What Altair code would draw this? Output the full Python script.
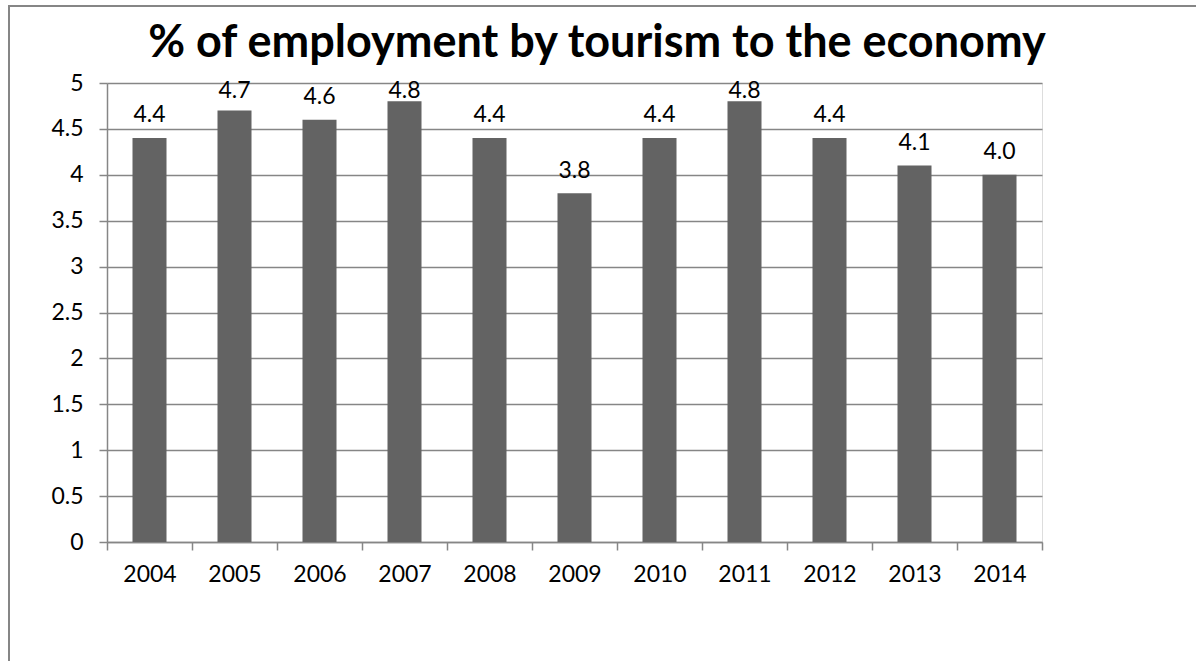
import altair as alt
import pandas as pd

years = ["2004", "2005", "2006", "2007", "2008", "2009", "2010", "2011", "2012", "2013", "2014"]
values = [4.4, 4.7, 4.6, 4.8, 4.4, 3.8, 4.4, 4.8, 4.4, 4.1, 4.0]
labels = ["4.4", "4.7", "4.6", "4.8", "4.4", "3.8", "4.4", "4.8", "4.4", "4.1", "4.0"]
y_ticks = [0, 0.5, 1, 1.5, 2, 2.5, 3, 3.5, 4, 4.5, 5]
title_text = "% of employment by tourism to the economy"

df = pd.DataFrame({"year": years, "value": values, "label": labels})

FONT = "Lato"
GRAY = "#868686"

x_enc = alt.X(
    "year:N",
    sort=years,
    scale=alt.Scale(paddingInner=0, paddingOuter=0),
    axis=alt.Axis(
        title=None, labelAngle=0, tickBand="extent", tickSize=8, tickColor=GRAY,
        tickWidth=1.5, domainColor=GRAY, domainWidth=1.5, labelPadding=13,
        labelFontSize=23, labelFont=FONT, labelColor="black", grid=False,
    ),
)
y_enc = alt.Y(
    "value:Q",
    scale=alt.Scale(domain=[0, 5], nice=False),
    axis=alt.Axis(
        title=None, values=y_ticks, format=".1~f", tickSize=8, tickColor=GRAY,
        tickWidth=1.5, domainColor=GRAY, domainWidth=1.5, gridColor=GRAY,
        gridWidth=1.5, labelPadding=16, labelFontSize=23, labelFont=FONT,
        labelColor="black", labelFlush=False,
    ),
)

bars = alt.Chart(df).mark_bar(color="#636363", width=alt.RelativeBandSize(0.4)).encode(
    x=x_enc, y=y_enc
)
# labels sit just above the bar, but are kept inside the plot area (as Excel does)
text = alt.Chart(df).transform_calculate(
    label_y="min(datum.value + 0.17, 4.84)"
).mark_text(
    font=FONT, fontSize=23, color="black", baseline="alphabetic"
).encode(
    x=alt.X("year:N", sort=years),
    y=alt.Y("label_y:Q", scale=alt.Scale(domain=[0, 5], nice=False)),
    text="label:N",
)

frame = alt.Chart(alt.Data(values=[{}])).mark_rect(
    fill=None, stroke=GRAY, strokeWidth=2
).encode(
    x=alt.value(-98), x2=alt.value(1200), y=alt.value(-77), y2=alt.value(700)
)

title = alt.Chart(alt.Data(values=[{"t": title_text}])).mark_text(
    font=FONT, fontSize=45, fontWeight="bold", color="black",
    baseline="alphabetic", align="center"
).encode(x=alt.value(490), y=alt.value(-26), text="t:N")

chart = alt.layer(frame, bars, text, title).properties(
    width=935,
    height=459,
    padding={"left": 107, "top": 83, "right": 154, "bottom": 119},
    autosize=alt.AutoSizeParams(type="none"),
).configure_view(stroke=None).configure(background="white")

chart.save("out.html", embed_options={"renderer": "svg", "actions": False})
